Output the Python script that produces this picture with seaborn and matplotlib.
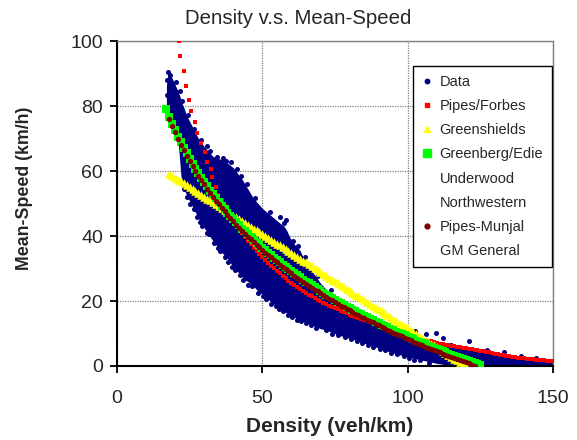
import matplotlib
matplotlib.use("Agg")
import matplotlib.pyplot as plt
from matplotlib.lines import Line2D
import seaborn as sns

# ---- observed traffic data: dense core band (lower / upper edge) ----
env_density = [17.0, 17.5, 18, 19, 20, 21, 21.5, 22, 22.5, 23, 24, 26, 28, 30, 33, 36, 38, 40,
               41, 42, 43, 44, 45, 46, 47, 48, 50, 52, 54, 56, 57.5, 58.5, 59.5, 61, 63, 64, 66,
               68, 70, 72, 75, 78, 80, 82, 85, 86, 90, 95, 100, 105, 110, 115, 120, 125, 130,
               135, 140, 145, 150]
env_low = [78, 76, 75.5, 73.5, 71.5, 69, 64, 58.5, 56, 54.5, 52.5, 49, 45.5, 42.5, 38.5, 35,
           33, 30.5, 29.5, 28.5, 27.5, 26.5, 26, 25.2, 24.5, 23.5, 22, 20.5, 19, 17.5, 16.8,
           16.2, 15.8, 15, 14.2, 13.8, 13, 12.2, 11.5, 11, 10, 9, 8.5, 8, 7, 6.8, 5.5, 4, 2.8,
           1.8, 0.8, 0.2, 0, 0, 0, 0, 0, 0, 0]
env_high = [86, 90, 90, 88.5, 86.5, 84.5, 83.3, 82, 80.5, 79.5, 77, 73.5, 70, 67.5, 64.5, 63.5,
            62.5, 61, 60, 58.5, 57.5, 56, 54.5, 53, 51.5, 50.5, 48.5, 47, 45.5, 44, 43, 41.5,
            39.5, 37.5, 35.5, 33.5, 30.5, 28, 25.5, 23.5, 21, 18.5, 17.5, 16, 14.8, 14.4, 13,
            11.3, 10, 8.6, 7.2, 6.2, 5.3, 4.6, 3.8, 3.0, 2.4, 1.9, 1.4]

# ---- observed traffic data: scattered points along the band ----
data_density = [17.3, 17.6, 18.4, 17.2, 17.9, 20.2, 21.6, 23.0, 25.2, 27.4, 29.4, 31.5, 33.2,
                35.6, 38.2, 40.6, 43.4, 45.2, 48.6, 51.4, 54.6, 57.2, 60.2, 63.4, 66.6, 71.8,
                76.2, 80.4, 84.2, 88.0, 92.2, 96.4, 100.6, 104.2, 107.4, 112.4, 113.6, 36.6,
                39.2, 41.4, 44.6, 56.2, 58.2, 62.2, 98.2, 102.4, 106.3, 109.7, 112.2, 115.0,
                121.0, 127.2, 133.0, 139.0, 144.0, 30.8, 34.5,
                24.2, 26.4, 28.6, 31.0, 34.6, 37.0, 39.6, 42.2, 46.4, 50.2, 53.0, 55.8, 59.0,
                62.0, 65.0, 68.6, 74.0, 78.4, 82.6, 86.4, 90.4, 94.2, 98.6, 102.2,
                22.4, 24.4, 26.6, 29.0, 32.0, 37.6, 42.6, 47.4, 52.6, 57.4, 60.4, 64.6, 69.0,
                73.6, 82.8, 88.6, 94.0]
data_speed = [88.0, 90.5, 89.5, 83.5, 86.5, 87.5, 84.5, 54.5, 50.0, 46.0, 43.0, 40.5, 38.0,
              35.5, 32.0, 29.5, 26.5, 25.0, 22.5, 20.5, 18.5, 16.8, 15.2, 14.0, 12.5, 11.0,
              9.6, 8.2, 7.2, 6.0, 5.0, 3.8, 2.5, 1.8, 1.0, 1.2, 1.2, 64.0, 62.8, 60.5, 56.0,
              46.0, 45.0, 36.8, 10.6, 10.8, 10.0, 10.2, 8.6, 6.5, 7.8, 5.0, 4.2, 3.2, 2.6,
              67.8, 64.2,
              52.0, 48.2, 44.4, 40.8, 36.4, 33.6, 30.4, 28.0, 24.6, 21.4, 19.2, 17.4, 15.6,
              14.2, 13.2, 11.6, 10.0, 8.8, 7.6, 6.4, 5.2, 4.0, 3.0, 2.0,
              81.6, 77.2, 73.0, 69.4, 66.2, 63.2, 58.6, 51.6, 47.4, 44.0, 38.4, 33.6, 27.6,
              23.4, 16.6, 14.2, 12.0]

# ---- Pipes/Forbes model ----
pipes_density = [21.2, 21.7, 23.0, 23.7, 24.9, 25.6, 27.0, 27.6, 28.8, 30.2, 30.8, 32.2, 32.8,
                 34.2, 34.9] + list(range(36, 151))
pipes_speed = [100, 95.4, 90.8, 86.2, 82.0, 78.6, 75.2, 71.6, 68.7, 65.9, 62.9, 60.5, 58.2,
               55.2, 52.6,
               51.0, 49.3, 47.8, 46.3, 44.9, 43.5, 42.2, 40.9, 39.7, 38.5, 37.4, 36.4, 35.4,
               34.4, 33.5, 32.6, 31.7, 30.9, 30.1, 29.3, 28.5, 27.7, 27.0, 26.2, 25.5, 24.8,
               24.2, 23.6, 23.0, 22.4, 21.9, 21.4, 20.9, 20.4, 20.0, 19.5, 19.1, 18.6, 18.2,
               17.8, 17.4, 17.0, 16.6, 16.2, 15.8, 15.5, 15.1, 14.8, 14.4, 14.1, 13.8, 13.4,
               13.1, 12.8, 12.5, 12.2, 11.9, 11.6, 11.3, 11.0, 10.7, 10.4, 10.2, 9.9, 9.6, 9.4,
               9.1, 8.8, 8.6, 8.3, 8.1, 7.8, 7.6, 7.3, 7.1, 6.9, 6.7, 6.6, 6.4, 6.2, 6.1, 5.9,
               5.7, 5.6, 5.4, 5.3, 5.1, 4.9, 4.8, 4.6, 4.5, 4.3, 4.2, 4.0, 3.8, 3.7, 3.5, 3.4,
               3.2, 3.0, 2.9, 2.7, 2.6, 2.5, 2.4, 2.3, 2.2, 2.1, 2.0, 1.9, 1.8, 1.7, 1.6, 1.5,
               1.4]

# ---- Greenshields model ----
greenshields_density = list(range(18, 121))
greenshields_speed = [59.1, 58.5, 57.9, 57.3, 56.8, 56.2, 55.6, 55.0, 54.4, 53.9, 53.3, 52.7,
                      52.1, 51.5, 51.0, 50.4, 49.8, 49.2, 48.6, 48.1, 47.5, 46.9, 46.3, 45.8,
                      45.2, 44.6, 44.0, 43.4, 42.9, 42.3, 41.7, 41.1, 40.5, 40.0, 39.4, 38.8,
                      38.2, 37.6, 37.1, 36.5, 35.9, 35.3, 34.8, 34.2, 33.6, 33.0, 32.4, 31.9,
                      31.3, 30.7, 30.1, 29.5, 29.0, 28.4, 27.8, 27.2, 26.6, 26.1, 25.5, 24.9,
                      24.3, 23.7, 23.2, 22.6, 22.0, 21.4, 20.8, 20.3, 19.7, 19.1, 18.5, 18.0,
                      17.4, 16.8, 16.2, 15.6, 15.1, 14.5, 13.9, 13.3, 12.7, 12.2, 11.6, 11.0,
                      10.4, 9.8, 9.3, 8.7, 8.1, 7.5, 6.9, 6.4, 5.8, 5.2, 4.6, 4.0, 3.5, 2.9,
                      2.3, 1.7, 1.2, 0.6, 0.0]

# ---- Greenberg/Edie model ----
greenberg_density = list(range(17, 126))
greenberg_speed = [79.0, 76.7, 74.6, 72.6, 70.6, 68.8, 67.1, 65.4, 63.8, 62.2, 60.7, 59.3, 57.9,
                   56.6, 55.3, 54.0, 52.8, 51.6, 50.5, 49.3, 48.3, 47.2, 46.2, 45.2, 44.2,
                   43.3, 42.3, 41.4, 40.5, 39.7, 38.8, 38.0, 37.2, 36.4, 35.6, 34.8, 34.1,
                   33.3, 32.6, 31.9, 31.2, 30.5, 29.8, 29.2, 28.5, 27.9, 27.3, 26.6, 26.0,
                   25.4, 24.8, 24.2, 23.7, 23.1, 22.5, 22.0, 21.4, 20.9, 20.4, 19.8, 19.3,
                   18.8, 18.3, 17.8, 17.3, 16.8, 16.4, 15.9, 15.4, 15.0, 14.5, 14.1, 13.6,
                   13.2, 12.7, 12.3, 11.9, 11.5, 11.0, 10.6, 10.2, 9.8, 9.4, 9.0, 8.6, 8.2,
                   7.8, 7.5, 7.1, 6.7, 6.3, 6.0, 5.6, 5.3, 4.9, 4.5, 4.2, 3.8, 3.5, 3.1, 2.8,
                   2.4, 2.1, 1.8, 1.5, 1.1, 0.8, 0.5, 0.2]

# ---- Pipes-Munjal model ----
munjal_density = list(range(18, 124))
munjal_speed = [76.0, 73.9, 71.9, 69.9, 68.1, 66.4, 64.7, 63.1, 61.5, 60.0, 58.6, 57.2, 55.9,
                54.6, 53.3, 52.1, 50.9, 49.8, 48.6, 47.6, 46.5, 45.5, 44.5, 43.5, 42.6, 41.6,
                40.7, 39.8, 39.0, 38.1, 37.3, 36.5, 35.7, 34.9, 34.1, 33.4, 32.6, 31.9, 31.2,
                30.5, 29.8, 29.1, 28.5, 27.8, 27.2, 26.6, 25.9, 25.3, 24.7, 24.1, 23.5, 23.0,
                22.4, 21.8, 21.3, 20.7, 20.2, 19.7, 19.1, 18.6, 18.1, 17.6, 17.1, 16.6, 16.1,
                15.7, 15.2, 14.7, 14.3, 13.8, 13.4, 12.9, 12.5, 12.0, 11.6, 11.2, 10.8, 10.3,
                9.9, 9.5, 9.1, 8.7, 8.3, 7.9, 7.5, 7.1, 6.8, 6.4, 6.0, 5.6, 5.3, 4.9, 4.6, 4.2,
                3.8, 3.5, 3.1, 2.8, 2.4, 2.1, 1.7, 1.4, 1.1, 0.8, 0.4, 0.1]

legend_labels = ["Data", "Pipes/Forbes", "Greenshields", "Greenberg/Edie", "Underwood",
                 "Northwestern", "Pipes-Munjal", "GM General"]

sns.set_style("white")
plt.rcParams["font.family"] = ["Liberation Sans", "DejaVu Sans"]

fig = plt.figure(figsize=(5.77, 4.40), dpi=100)
ax = fig.add_axes([117 / 577, 1 - 366 / 440, 436 / 577, 325 / 440])

NAVY, RED, YELLOW, GREEN, MAROON = "#000080", "#FF0000", "#FFFF00", "#00FF00", "#800000"

# dense part of the observations
ax.fill_between(env_density, env_low, env_high, color=NAVY, linewidth=0, zorder=2)
sns.scatterplot(x=data_density, y=data_speed, ax=ax, color=NAVY, marker="o", s=13,
                linewidth=0, zorder=2)

sns.scatterplot(x=pipes_density, y=pipes_speed, ax=ax, color=RED, marker="s", s=10,
                linewidth=0, zorder=3)
sns.scatterplot(x=greenshields_density, y=greenshields_speed, ax=ax, color=YELLOW,
                marker="^", s=38, linewidth=0, zorder=4)
sns.scatterplot(x=greenberg_density, y=greenberg_speed, ax=ax, color=GREEN, marker="s",
                s=36, linewidth=0, zorder=5)
sns.scatterplot(x=munjal_density, y=munjal_speed, ax=ax, color=MAROON, marker="o", s=15,
                linewidth=0, zorder=6)

ax.set_xlim(0, 150)
ax.set_ylim(0, 100)
ax.set_xticks([0, 50, 100, 150])
ax.set_yticks([0, 20, 40, 60, 80, 100])
ax.grid(True, color="#808080", linestyle=(0, (1, 1)), linewidth=0.9, zorder=0)
ax.set_axisbelow(True)

for side in ("top", "right"):
    ax.spines[side].set_color("#808080")
    ax.spines[side].set_linewidth(1.0)
for side in ("left", "bottom"):
    ax.spines[side].set_color("black")
    ax.spines[side].set_linewidth(1.5)

ax.tick_params(axis="both", direction="out", length=5, width=1.3, color="black",
               labelsize=14, bottom=True, left=True)
ax.tick_params(axis="x", pad=12)
ax.tick_params(axis="y", pad=5)

ax.set_xlabel("Density (veh/km)", fontsize=15, fontweight="bold")
ax.xaxis.label.set_verticalalignment("center")
ax.xaxis.set_label_coords((330 - 117) / 436, (366 - 426) / 325)
ax.set_ylabel("Mean-Speed (km/h)", fontsize=12.8, fontweight="bold")
ax.yaxis.label.set_verticalalignment("center")
ax.yaxis.set_label_coords((25 - 117) / 436, (366 - 188) / 325)
fig.text(298 / 577, 1 - 19 / 440, "Density v.s. Mean-Speed", fontsize=14.7,
         ha="center", va="center")

handles = [
    Line2D([], [], linestyle="none", marker="o", color=NAVY, markersize=3.2),
    Line2D([], [], linestyle="none", marker="s", color=RED, markersize=3.0),
    Line2D([], [], linestyle="none", marker="^", color=YELLOW, markersize=4.5),
    Line2D([], [], linestyle="none", marker="s", color=GREEN, markersize=6.0),
    Line2D([], [], linestyle="none", marker="none"),
    Line2D([], [], linestyle="none", marker="none"),
    Line2D([], [], linestyle="none", marker="o", color=MAROON, markersize=3.5),
    Line2D([], [], linestyle="none", marker="none"),
]
leg = ax.legend(handles, legend_labels, loc="upper right",
                bbox_to_anchor=((552 - 117) / 436, (366 - 66) / 325),
                fontsize=10.5, frameon=True, fancybox=False, framealpha=1,
                edgecolor="black", borderpad=0.6, labelspacing=0.70, handlelength=0.7,
                handletextpad=0.5, borderaxespad=0)
leg.get_frame().set_linewidth(1.0)
leg.set_zorder(10)

fig.savefig("out.png", dpi=100, facecolor="white")
